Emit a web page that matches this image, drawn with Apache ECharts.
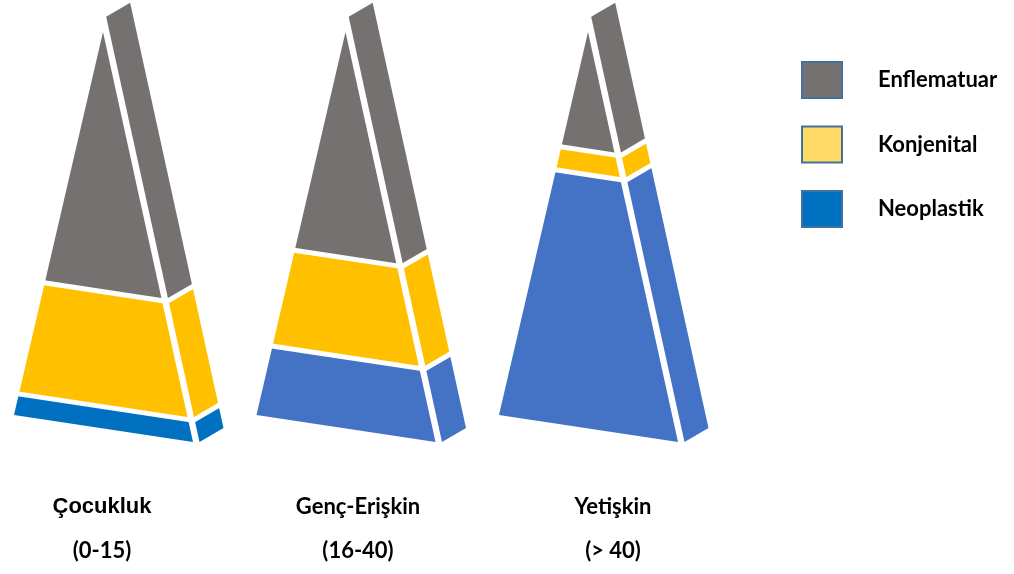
<!DOCTYPE html>
<html>
<head>
<meta charset="utf-8">
<script src="https://cdn.jsdelivr.net/npm/echarts@6/dist/echarts.min.js"></script>
<style>
  html, body { margin: 0; padding: 0; background: #ffffff; }
  #chart { width: 1014px; height: 574px; }
</style>
</head>
<body>
<div id="chart"></div>
<script>
// ---- data ----
const categories = ['Çocukluk', 'Genç-Erişkin', 'Yetişkin'];
const ageRanges = ['(0-15)', '(16-40)', '(> 40)'];
const seriesNames = ['Enflematuar', 'Konjenital', 'Neoplastik'];
// percentage height of each layer (bottom to top: Neoplastik, Konjenital, Enflematuar)
const neoplastik = [5.5, 18, 64];
const konjenital = [29, 25, 6];
const enflematuar = [65.5, 57, 30];

// ---- styles ----
const GRAY = '#767171';
const YELLOW = '#FFC000';
const BLUE = '#4472C4';
const DARK_BLUE = '#0070C0';
const layerColors = {
  Neoplastik: [DARK_BLUE, BLUE, BLUE],
  Konjenital: [YELLOW, YELLOW, YELLOW],
  Enflematuar: [GRAY, GRAY, GRAY]
};
const legendColors = { Enflematuar: '#767171', Konjenital: '#FFD966', Neoplastik: '#0070C0' };
const labelX = [102, 358, 613];

const chart = echarts.init(document.getElementById('chart'), null, { renderer: 'canvas' });

// geometry constants (pixels at reference height 396.5 for 100 units)
const REF_H = 396.5;
const HALF_L = 89, HALF_R = 90, SHEAR = 0.151, GAP = 6.5, DEPTH_X = 24, DEPTH_Y = -14, SIDE_TOP = 103.7;

function renderLayer(params, api) {
  const i = api.value(0);
  const s = api.value(1);
  const e = api.value(2);
  const p0 = api.coord([i, 0]);
  const p100 = api.coord([i, 100]);
  const H = p0[1] - p100[1];
  const f = H / REF_H;
  const cx = p0[0];
  const yv = v => api.coord([i, v])[1];
  const fl = v => { const u = HALF_L * f * (1 - v / 100); return [cx - u, yv(v) - SHEAR * u]; };
  const fr = v => { const u = HALF_R * f * (1 - v / 100); return [cx + u, yv(v) + SHEAR * u]; };
  const sl = v => { const p = fr(v); return [p[0] + GAP * f, p[1]]; };
  const sr = v => { const p = sl(v); return [p[0] + DEPTH_X * f, p[1] + DEPTH_Y * f]; };
  const color = api.visual('color');
  const children = [];
  const frontPts = e >= 100 ? [fl(s), fr(s), fr(100)] : [fl(s), fr(s), fr(e), fl(e)];
  children.push({ type: 'polygon', shape: { points: frontPts }, style: { fill: color } });
  const eSide = e >= 100 ? SIDE_TOP : e;
  children.push({ type: 'polygon', shape: { points: [sl(s), sr(s), sr(eSide), sl(eSide)] }, style: { fill: color } });
  if (s > 0) {
    const ext = (a, b, d) => {
      const dx = b[0] - a[0], dy = b[1] - a[1], L = Math.hypot(dx, dy);
      return [[a[0] - dx / L * d, a[1] - dy / L * d], [b[0] + dx / L * d, b[1] + dy / L * d]];
    };
    children.push({ type: 'polyline', shape: { points: ext(fl(s), fr(s), 4) }, style: { stroke: '#ffffff', lineWidth: 5, fill: null } });
    children.push({ type: 'polyline', shape: { points: ext(sl(s), sr(s), 4) }, style: { stroke: '#ffffff', lineWidth: 5, fill: null } });
  }
  return { type: 'group', children };
}

const layers = [
  { name: 'Neoplastik', values: neoplastik },
  { name: 'Konjenital', values: konjenital },
  { name: 'Enflematuar', values: enflematuar }
];
const cum = categories.map(() => 0);
const series = layers.map(layer => {
  const data = categories.map((c, i) => {
    const start = cum[i];
    const end = start + layer.values[i];
    cum[i] = end;
    return { value: [i, start, end], itemStyle: { color: layerColors[layer.name][i] } };
  });
  return {
    type: 'custom',
    name: layer.name,
    renderItem: renderLayer,
    encode: { x: 0, y: [1, 2] },
    data,
    clip: false,
    silent: true
  };
});

const graphics = [];
categories.forEach((c, i) => {
  graphics.push({
    type: 'text', x: labelX[i], y: 507,
    style: {
      text: c,
      font: i === 0 ? 'bold 22px "Liberation Sans", Arial, sans-serif' : 'bold 22px Lato, sans-serif',
      fill: '#000000', textAlign: 'center', textVerticalAlign: 'middle'
    }
  });
  graphics.push({
    type: 'text', x: labelX[i], y: 551,
    style: {
      text: ageRanges[i],
      font: 'bold 22px Lato, sans-serif',
      fill: '#000000', textAlign: 'center', textVerticalAlign: 'middle'
    }
  });
});

chart.setOption({
  animation: false,
  backgroundColor: '#ffffff',
  grid: { left: 103, right: 426, top: 32, bottom: 145.5 },
  xAxis: { type: 'category', data: categories, boundaryGap: false, show: false },
  yAxis: { type: 'value', min: 0, max: 100, show: false },
  legend: {
    orient: 'vertical', left: 796, top: 56,
    itemWidth: 40, itemHeight: 36, itemGap: 26.5, icon: 'rect',
    selectedMode: false,
    textStyle: { fontFamily: 'Lato', fontWeight: 'bold', fontSize: 22, lineHeight: 22, color: '#000000', padding: [12, 0, 0, 31] },
    data: seriesNames.map(n => ({ name: n, itemStyle: { color: legendColors[n], borderColor: '#41719C', borderWidth: 2 } }))
  },
  graphic: graphics,
  series
});
</script>
</body>
</html>
